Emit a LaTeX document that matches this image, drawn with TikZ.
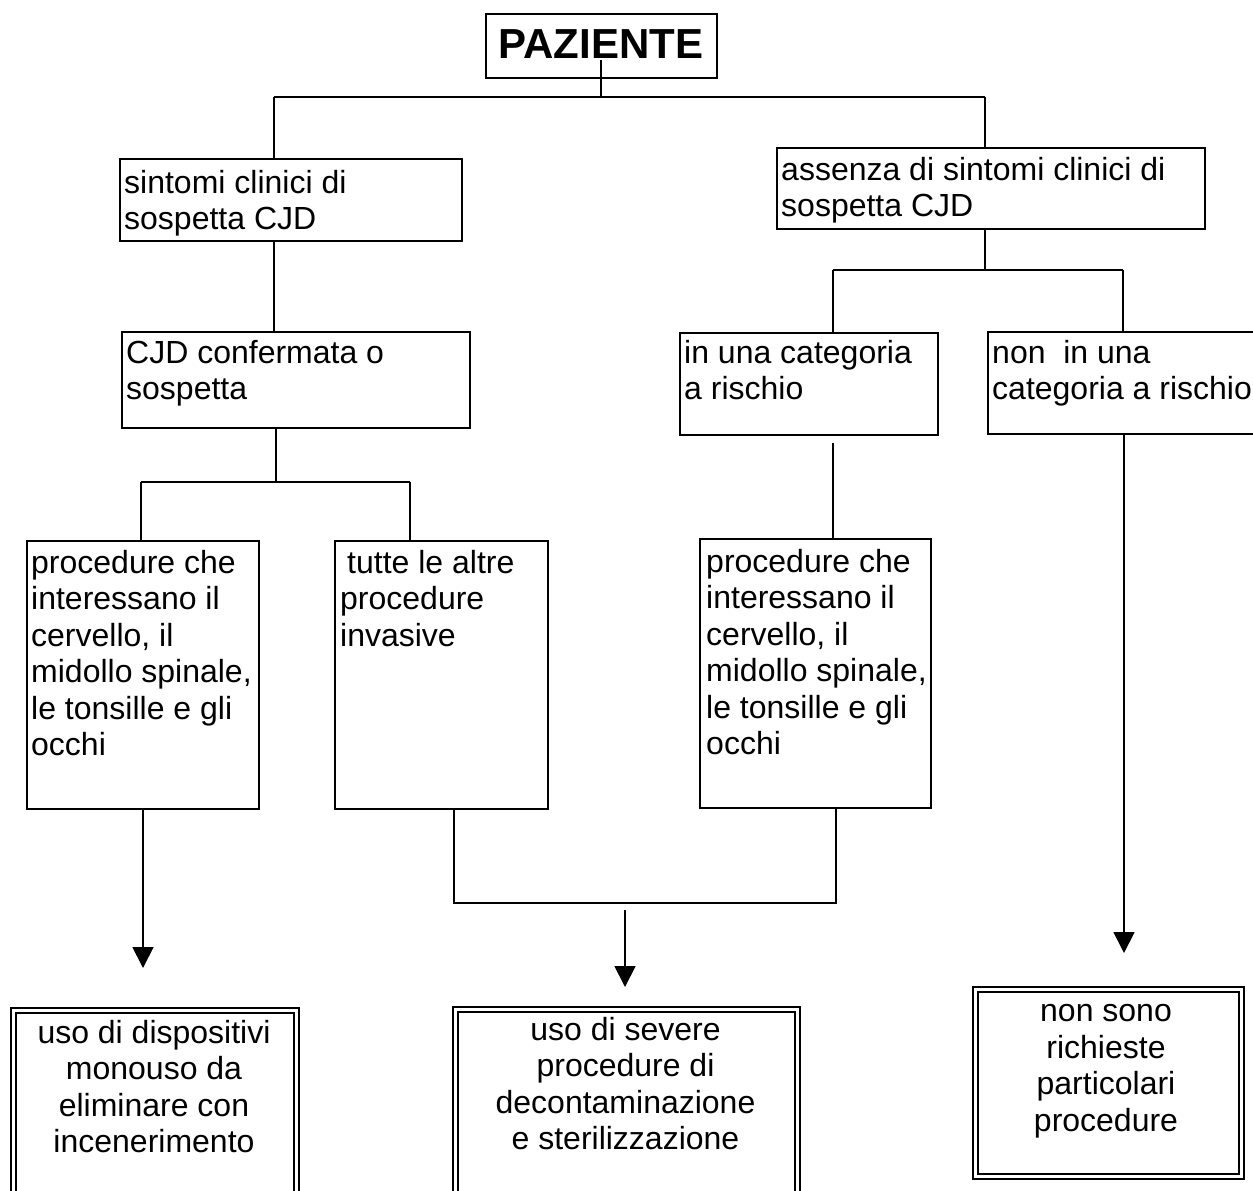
\documentclass[tikz,border=0pt]{standalone}
\usepackage{fontspec}
\setmainfont{Liberation Sans}
\usetikzlibrary{arrows.meta}
\newcommand\myfs{\fontsize{32}{36.5}\selectfont}
\newcommand\myfb{\fontsize{42}{48}\selectfont\bfseries}
\begin{document}
\begin{tikzpicture}[x=1pt,y=-1pt,
 box/.style={draw, line width=2pt, inner sep=0pt, anchor=north west},
 dbox/.style={draw, line width=2pt, double=white, double distance=3pt, inner sep=0pt, anchor=north west},
 txt/.style={inner sep=0pt, anchor=north west, align=left, font=\myfs},
 ctxt/.style={inner sep=0pt, anchor=north, align=center, font=\myfs},
 conn/.style={line width=1.8pt},
 arr/.style={line width=1.8pt, -{Triangle[length=21pt,width=21pt]}}]
\clip (0,0) rectangle (1253,1191);
\fill[white] (0,0) rectangle (1253,1191);

% boxes
\node[box, minimum width=231pt, minimum height=64pt] (paz) at (485,13) {};
\node[box, minimum width=342pt, minimum height=82pt] (sint) at (119,158) {};
\node[box, minimum width=428pt, minimum height=81pt] (ass) at (776,147) {};
\node[box, minimum width=348pt, minimum height=96pt] (cjd) at (121,331) {};
\node[box, minimum width=258pt, minimum height=102pt] (inuna) at (679,332) {};
\node[box, minimum width=290pt, minimum height=102pt] (nonuna) at (987,331) {};
\node[box, minimum width=232pt, minimum height=268pt] (proc1) at (26,540) {};
\node[box, minimum width=213pt, minimum height=268pt] (tutte) at (334,540) {};
\node[box, minimum width=231pt, minimum height=269pt] (proc2) at (699,538) {};
\node[dbox, minimum width=283.5pt, minimum height=200pt] (out1) at (12,1009) {};
\node[dbox, minimum width=342pt, minimum height=200pt] (out2) at (454.5,1008) {};
\node[dbox, minimum width=266pt, minimum height=187.5pt] (out3) at (974.5,988) {};

% texts
\node[inner sep=0pt, anchor=base, font=\myfb] (tpaz) at (601,58) {PAZIENTE};
\node[txt] (tsint) at (124,167.5) {\strut sintomi clinici di\\sospetta CJD};
\node[txt] (tass) at (781,154.5) {\strut assenza di sintomi clinici di\\sospetta CJD};
\node[txt] (tcjd) at (126,337.5) {\strut CJD confermata o\\sospetta};
\node[txt] (tinuna) at (684,337.5) {\strut in una categoria\\a rischio};
\node[txt] (tnonuna) at (992,337.5) {\strut non\ \ in una\\categoria a rischio};
\node[txt] (tproc1) at (31,547.5) {\strut procedure che\\interessano il\\cervello, il\\midollo spinale,\\le tonsille e gli\\occhi};
\node[txt] (ttutte) at (340,547.5) {\strut\hspace*{7pt}tutte le altre\\procedure\\invasive};
\node[txt] (tproc2) at (706,546.5) {\strut procedure che\\interessano il\\cervello, il\\midollo spinale,\\le tonsille e gli\\occhi};
\node[ctxt] (tout1) at (154,1017.5) {\strut uso di dispositivi\\monouso da\\eliminare con\\incenerimento};
\node[ctxt] (tout2) at (625.5,1014.5) {\strut uso di severe\\procedure di\\decontaminazione\\e sterilizzazione};
\node[ctxt] (tout3) at (1106,996) {\strut non sono\\richieste\\particolari\\procedure};

% junction coordinates
\coordinate (j0) at (601,97);
\coordinate (jL) at (274,97);
\coordinate (jR) at (985,97);
\coordinate (jA) at (985,270);
\coordinate (jA1) at (833,270);
\coordinate (jA2) at (1123,270);
\coordinate (jC) at (276,482);
\coordinate (jC1) at (141,482);
\coordinate (jC2) at (410,482);
\coordinate (g1) at (833,443);
\coordinate (jT) at (454,903);
\coordinate (jP) at (836,903);
\coordinate (s2) at (625,910);
\coordinate (a1) at (143,968);
\coordinate (a2) at (625,987);
\coordinate (a3) at (1124,953);

% connectors
\draw[conn] ([yshift=19pt]paz.south -| j0) -- (j0);
\draw[conn] (jL) -- (jR);
\draw[conn] (jL) -- (jL |- sint.north);
\draw[conn] (jR) -- (jR |- ass.north);
\draw[conn] (jL |- sint.south) -- (jL |- cjd.north);
\draw[conn] (jR |- ass.south) -- (jA);
\draw[conn] (jA1) -- (jA2);
\draw[conn] (jA1) -- (jA1 |- inuna.north);
\draw[conn] (jA2) -- (jA2 |- nonuna.north);
\draw[conn] (jC |- cjd.south) -- (jC);
\draw[conn] (jC1) -- (jC2);
\draw[conn] (jC1) -- (jC1 |- proc1.north);
\draw[conn] (jC2) -- (jC2 |- tutte.north);
\draw[conn] (g1) -- (g1 |- proc2.north);
\draw[conn] (jT |- tutte.south) -- (jT) -- (jP) -- (jP |- proc2.south);
\draw[arr] (a1 |- proc1.south) -- (a1);
\draw[arr] (s2) -- (a2);
\draw[arr] (a3 |- nonuna.south) -- (a3);
\end{tikzpicture}
\end{document}
